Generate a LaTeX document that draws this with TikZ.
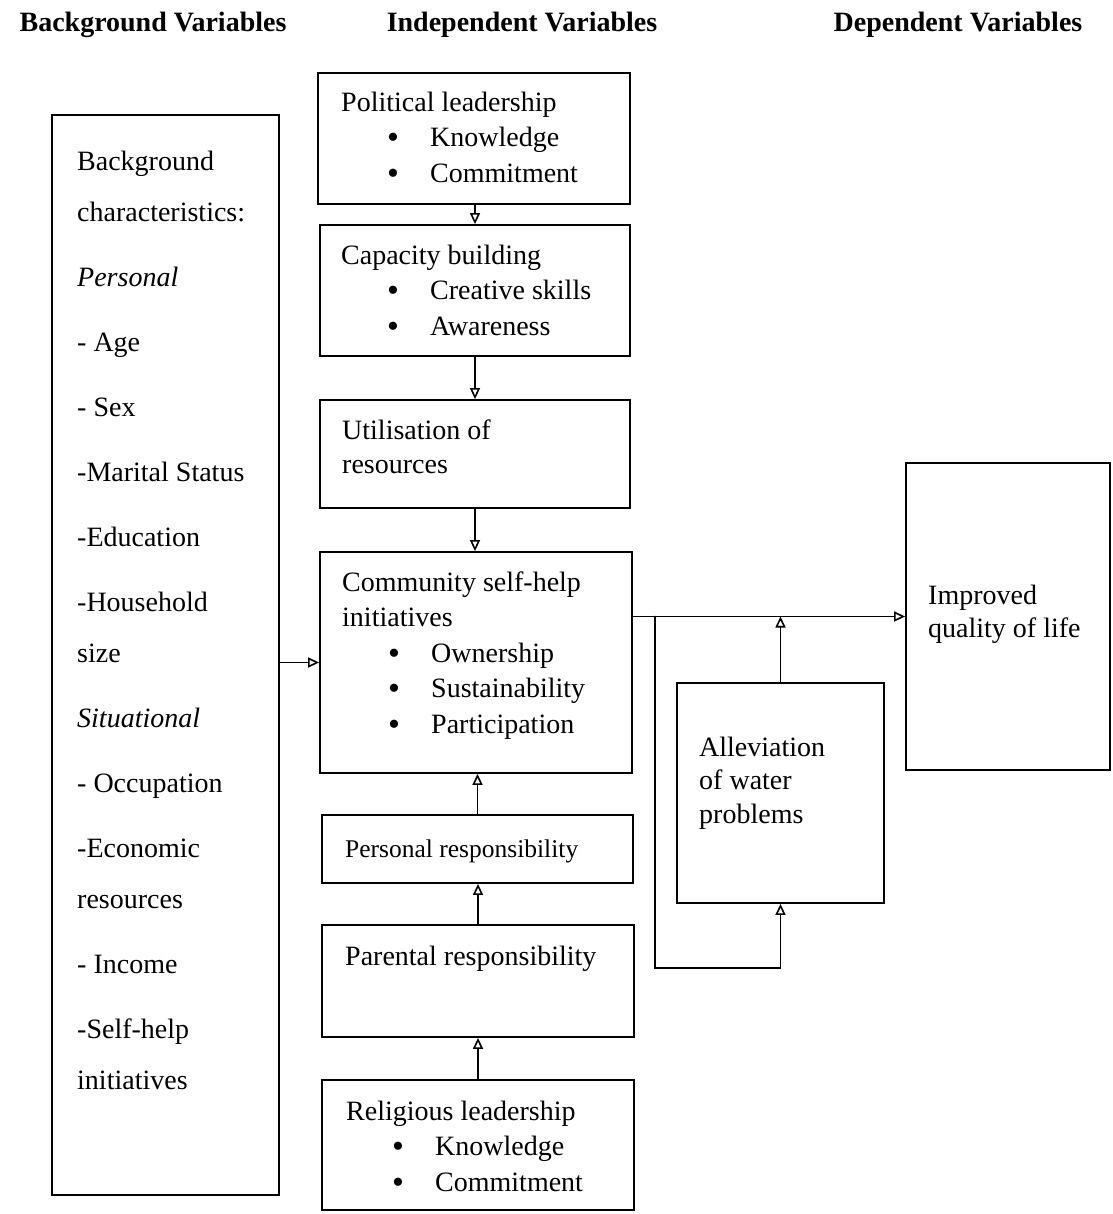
\documentclass[tikz,border=0pt]{standalone}
\usepackage{fontspec}
\setmainfont{Liberation Serif}
\usetikzlibrary{arrows.meta}
\newcommand{\fl}{\rule{0pt}{20pt}}
\newcommand{\bitem}[1]{\hspace*{46pt}\makebox[43pt][l]{\raisebox{-2pt}{\fontsize{34}{34}\selectfont\textbullet}}#1}

\begin{document}
\begin{tikzpicture}[x=1pt, y=-1pt, line cap=round,
  box/.style={draw, line width=1.8pt, inner sep=0pt},
  txt/.style={anchor=north west, inner sep=0pt, align=left, font=\fontsize{28}{35.5}\selectfont},
  head/.style={font=\fontsize{28}{32}\selectfont\bfseries},
  arr/.style={line width=1.8pt, -{Triangle[open, length=11pt, width=10pt, line width=1.6pt]}}]

  \useasboundingbox (0,0) rectangle (1112,1214);

  % Column headings
  \node[head] (hbg)  at (153,25) {Background Variables};
  \node[head] (hind) at (522,25) {Independent Variables};
  \node[head] (hdep) at (958,25) {Dependent Variables};

  % Background box
  \node[box, minimum width=227pt, minimum height=1080pt] (bg) at (165.5,655) {};
  \node[txt, font=\fontsize{28}{51}\selectfont] (bgT) at (77,150) {\fl Background\\characteristics:\\[14pt]
    \textit{Personal}\\[14pt]- Age\\[14pt]- Sex\\[14pt]-Marital Status\\[14pt]-Education\\[14pt]
    -Household\\size\\[14pt]\textit{Situational}\\[14pt]- Occupation\\[14pt]-Economic\\resources\\[14pt]
    - Income\\[14pt]-Self-help\\initiatives};

  % Independent variables
  \node[box, minimum width=312pt, minimum height=131pt] (pol) at (474,138.5) {};
  \node[txt] (polT) at (341,91) {\fl Political leadership\\\bitem{Knowledge}\\\bitem{Commitment}};

  \node[box, minimum width=310pt, minimum height=131pt] (cap) at (475,290.5) {};
  \node[txt] (capT) at (341,244) {\fl Capacity building\\\bitem{Creative skills}\\\bitem{Awareness}};

  \node[box, minimum width=310pt, minimum height=108pt] (uti) at (475,454) {};
  \node[txt, font=\fontsize{28}{34}\selectfont] (utiT) at (342,419) {\fl Utilisation of\\resources};

  \node[box, minimum width=312pt, minimum height=221pt] (cs) at (476,662.5) {};
  \node[txt] (csT) at (342,571) {\fl Community self-help\\initiatives\\\bitem{Ownership}\\\bitem{Sustainability}\\\bitem{Participation}};

  \node[box, minimum width=311pt, minimum height=68pt] (per) at (477.5,849) {};
  \node[txt, font=\fontsize{25.5}{32}\selectfont] (perT) at (345,837) {\fl Personal responsibility};

  \node[box, minimum width=312pt, minimum height=112pt] (par) at (478,981) {};
  \node[txt] (parT) at (345,945) {\fl Parental responsibility};

  \node[box, minimum width=312pt, minimum height=130pt] (rel) at (478,1145) {};
  \node[txt] (relT) at (346,1100) {\fl Religious leadership\\\bitem{Knowledge}\\\bitem{Commitment}};

  % Dependent side
  \node[box, minimum width=207pt, minimum height=220pt] (al) at (780.5,793) {};
  \node[txt, font=\fontsize{28}{33.5}\selectfont] (alT) at (699,736) {\fl Alleviation\\of water\\problems};

  \node[box, minimum width=204pt, minimum height=307pt] (imp) at (1008,616.5) {};
  \node[txt, font=\fontsize{28}{33}\selectfont] (impT) at (928,584) {\fl Improved\\quality of life};

  % Arrows down the independent column
  \draw[arr] (cap.north |- pol.south) -- (cap.north);
  \draw[arr] (cap.south) -- (cap.south |- uti.north);
  \draw[arr] (uti.south) -- (uti.south |- cs.north);
  \draw[arr] (per.north) -- (per.north |- cs.south);
  \draw[arr] (par.north) -- (par.north |- per.south);
  \draw[arr] (rel.north) -- (par.south);

  % Background into community box
  \draw[arr] (bg.east |- cs.west) -- (cs.west);

  % Community to quality of life, with the water loop
  \draw[arr] (imp.west -| cs.east) -- (imp.west);
  \draw[arr] (al.north) -- (al.north |- imp.west);
  \coordinate (fb)  at (655,616.5);
  \coordinate (fbc) at (655,968);
  \draw[arr] (fb) -- (fbc) -| (al.south);
\end{tikzpicture}
\end{document}
